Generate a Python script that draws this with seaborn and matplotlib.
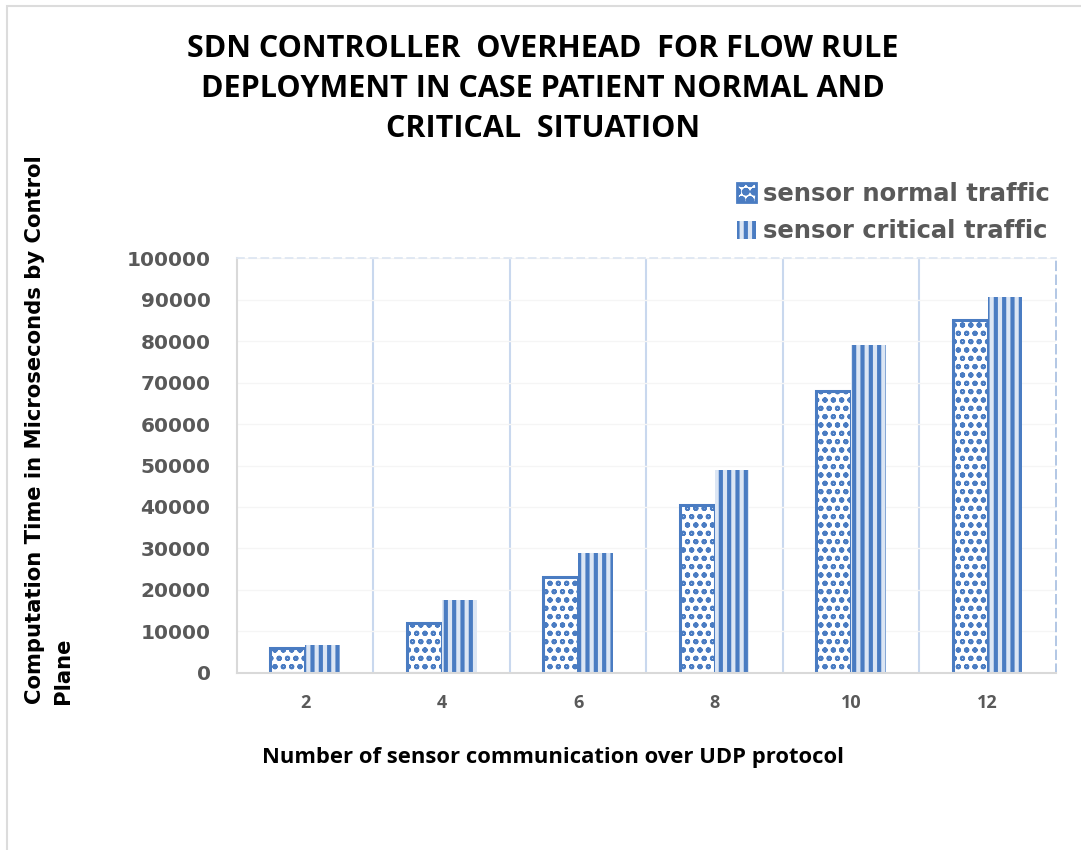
import numpy as np
import pandas as pd
import matplotlib
matplotlib.use("Agg")
import matplotlib.pyplot as plt
import seaborn as sns
from matplotlib.patches import Patch, Rectangle

# values
sensors = ["2", "4", "6", "8", "10", "12"]
normal_traffic = [5900, 11900, 23200, 40500, 68100, 85200]
critical_traffic = [6700, 17600, 28800, 48900, 79100, 90600]
series_names = ["sensor normal traffic", "sensor critical traffic"]
y_ticks = [0, 10000, 20000, 30000, 40000, 50000, 60000, 70000, 80000, 90000, 100000]

df = pd.DataFrame({
    "sensors": sensors * 2,
    "time": normal_traffic + critical_traffic,
    "series": [series_names[0]] * len(sensors) + [series_names[1]] * len(sensors),
})

sns.set_theme(style="white")
plt.rcParams["font.family"] = ["DejaVu Sans"]
plt.rcParams["hatch.linewidth"] = 3.0

BLUE = "#4a7cc2"
LIGHT = "#dce6f4"
GREY = "#595959"

fig = plt.figure(figsize=(10.81, 8.5), dpi=100)
ax = fig.add_axes([0.2192, 0.2086, 0.7576, 0.4875])

sns.barplot(data=df, x="sensors", y="time", hue="series", order=sensors,
            hue_order=series_names, palette=[BLUE, BLUE], saturation=1,
            width=0.51, legend=False, ax=ax)

# pattern fills like the original
for bar in ax.containers[0]:
    bar.set_facecolor("white")
    bar.set_edgecolor(BLUE)
    bar.set_hatch("oo")
    bar.set_linewidth(2.2)
    if hasattr(bar, "set_hatch_linewidth"):
        bar.set_hatch_linewidth(1.4)
for bar in ax.containers[1]:
    bar.set_facecolor(LIGHT)
    bar.set_edgecolor(BLUE)
    bar.set_hatch("||")
    bar.set_linewidth(0)

ax.set_xlim(-0.5, len(sensors) - 0.5)
ax.set_ylim(0, 100000)
ax.set_yticks(y_ticks)
ax.set_yticklabels([str(v) for v in y_ticks])

# category separators
ax.set_xticks(np.arange(0.5, len(sensors) - 0.5, 1), minor=True)
ax.grid(which="minor", axis="x", color="#c9d8ee", linewidth=1.5)
ax.grid(which="major", axis="y", color="#f5f5f5", linewidth=1)
ax.grid(which="major", axis="x", visible=False)
ax.set_axisbelow(True)

ax.spines["left"].set_color("#d9d9d9")
ax.spines["bottom"].set_color("#d9d9d9")
ax.spines["left"].set_linewidth(1.5)
ax.spines["bottom"].set_linewidth(1.5)
ax.spines["top"].set_color("#dde6f2")
ax.spines["top"].set_linestyle((0, (4, 3)))
ax.spines["right"].set_color("#a9c0e2")
ax.spines["right"].set_linestyle((0, (5, 3)))

ax.tick_params(axis="both", which="both", length=0)
ax.tick_params(axis="y", pad=19)
ax.tick_params(axis="x", pad=15)
for lab in ax.get_yticklabels():
    lab.set_fontsize(14.5)
    lab.set_fontweight("bold")
    lab.set_color(GREY)
for lab in ax.get_xticklabels():
    lab.set_fontsize(13)
    lab.set_fontweight("bold")
    lab.set_color(GREY)
    lab.set_family(["Open Sans", "DejaVu Sans"])
ax.set_xlabel("")
ax.set_ylabel("")

fig.text(0.502, 1 - 89 / 850,
         "SDN CONTROLLER  OVERHEAD  FOR FLOW RULE\nDEPLOYMENT IN CASE PATIENT NORMAL AND\nCRITICAL  SITUATION",
         ha="center", va="center", fontsize=22, fontweight="bold",
         family=["Open Sans", "DejaVu Sans"], linespacing=1.42, color="black")

fig.text(553 / 1081, 1 - 757 / 850, "Number of sensor communication over UDP protocol",
         ha="center", va="center", fontsize=15.8, fontweight="bold",
         family=["Open Sans", "DejaVu Sans"], color="black")

fig.text(49 / 1081, 1 - 430 / 850, "Computation Time in Microseconds by Control\nPlane",
         rotation=90, ha="center", va="center", multialignment="left",
         fontsize=15.2, fontweight="bold", linespacing=1.5, color="black")

handles = [
    Patch(facecolor="white", edgecolor=BLUE, hatch="oo", linewidth=2, label=series_names[0]),
    Patch(facecolor=LIGHT, edgecolor=BLUE, hatch="||", linewidth=0, label=series_names[1]),
]
fig.legend(handles=handles, loc="upper right", bbox_to_anchor=(1072 / 1081, 1 - 160 / 850),
           frameon=False, prop={"weight": "bold", "size": 17.5}, labelcolor=GREY,
           handlelength=0.8, handleheight=0.8, handletextpad=0.3, labelspacing=0.55)

# light frame around the chart
fig.patches.append(Rectangle((7 / 1081, -0.1), 1.2, 1.1 - 6 / 850, transform=fig.transFigure,
                             fill=False, edgecolor="#dcdcdc", linewidth=1.5))

fig.savefig("out.png", dpi=100)
